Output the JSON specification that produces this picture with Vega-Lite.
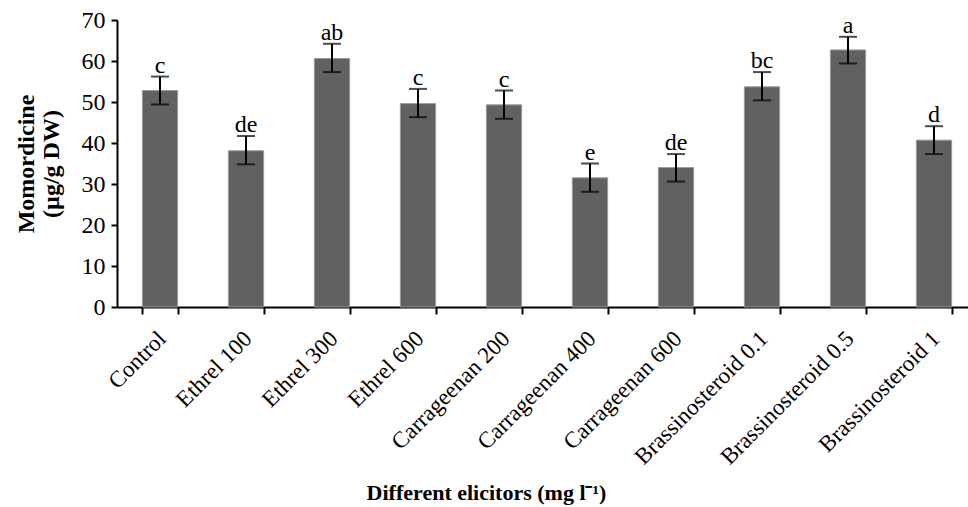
{
  "$schema": "https://vega.github.io/schema/vega-lite/v6.json",
  "autosize": {"type": "none"},
  "width": 851,
  "height": 287,
  "padding": {"left": 117, "top": 20, "right": 0, "bottom": 200},
  "background": "white",
  "config": {
    "view": {"stroke": null},
    "font": "Liberation Serif"
  },
  "data": {
    "values": [
      {"elicitor": "Control", "value": 52.8, "lo": 49.4, "hi": 56.2, "letter": "c"},
      {"elicitor": "Ethrel 100", "value": 38.1, "lo": 34.8, "hi": 41.7, "letter": "de"},
      {"elicitor": "Ethrel 300", "value": 60.6, "lo": 57.3, "hi": 64.2, "letter": "ab"},
      {"elicitor": "Ethrel 600", "value": 49.6, "lo": 46.3, "hi": 53.2, "letter": "c"},
      {"elicitor": "Carrageenan 200", "value": 49.3, "lo": 45.9, "hi": 52.8, "letter": "c"},
      {"elicitor": "Carrageenan 400", "value": 31.5, "lo": 28.1, "hi": 35.0, "letter": "e"},
      {"elicitor": "Carrageenan 600", "value": 34.0, "lo": 30.6, "hi": 37.3, "letter": "de"},
      {"elicitor": "Brassinosteroid 0.1", "value": 53.7, "lo": 50.4, "hi": 57.3, "letter": "bc"},
      {"elicitor": "Brassinosteroid 0.5", "value": 62.7, "lo": 59.4, "hi": 65.9, "letter": "a"},
      {"elicitor": "Brassinosteroid 1", "value": 40.7, "lo": 37.3, "hi": 44.1, "letter": "d"}
    ]
  },
  "encoding": {
    "x": {
      "field": "elicitor",
      "type": "nominal",
      "sort": null,
      "scale": {"range": [0, 860], "paddingInner": 0.59, "paddingOuter": 0.295},
      "axis": {
        "title": "Different elicitors (mg l⁻¹)",
        "titleFont": "Liberation Serif",
        "titleFontSize": 22,
        "titleFontWeight": "bold",
        "titleColor": "black",
        "titleX": 369,
        "titleY": 192,
        "titleAlign": "center",
        "titleBaseline": "alphabetic",
        "labelAngle": -45,
        "labelAlign": "right",
        "labelBaseline": "top",
        "labelOffset": -6,
        "labelPadding": 13,
        "labelFont": "Liberation Serif",
        "labelFontSize": 23,
        "labelColor": "black",
        "labelLimit": 300,
        "domainColor": "black",
        "domainWidth": 2,
        "tickColor": "black",
        "tickWidth": 2,
        "tickSize": 7,
        "tickBand": "extent",
        "grid": false
      }
    }
  },
  "layer": [
    {
      "mark": {"type": "bar", "color": "#616161", "stroke": "#9a9a9a", "strokeWidth": 1},
      "encoding": {
        "y": {
          "field": "value",
          "type": "quantitative",
          "scale": {"domain": [0, 70], "nice": false},
          "axis": {
            "values": [0, 10, 20, 30, 40, 50, 60, 70],
            "title": ["Momordicine", "(µg/g DW)"],
            "titleFont": "Liberation Serif",
            "titleFontSize": 24,
            "titleFontWeight": "bold",
            "titleColor": "black",
            "titleAngle": -90,
            "titleX": -84,
            "titleY": 143.5,
            "titleAlign": "center",
            "titleBaseline": "alphabetic",
            "titleLineHeight": 25,
            "labelFont": "Liberation Serif",
            "labelFontSize": 24,
            "labelColor": "black",
            "labelPadding": 6,
            "domainColor": "black",
            "domainWidth": 2,
            "tickColor": "black",
            "tickWidth": 2,
            "tickSize": 6,
            "grid": false
          }
        }
      }
    },
    {
      "mark": {"type": "rule", "color": "black", "strokeWidth": 2},
      "encoding": {
        "y": {"field": "lo", "type": "quantitative"},
        "y2": {"field": "hi"}
      }
    },
    {
      "mark": {"type": "tick", "color": "black", "thickness": 2, "size": 18, "orient": "horizontal"},
      "encoding": {"y": {"field": "lo", "type": "quantitative"}}
    },
    {
      "mark": {"type": "tick", "color": "black", "thickness": 2, "size": 18, "orient": "horizontal"},
      "encoding": {"y": {"field": "hi", "type": "quantitative"}}
    },
    {
      "mark": {"type": "text", "font": "Liberation Serif", "fontSize": 24, "color": "black", "baseline": "alphabetic", "dy": -4},
      "encoding": {
        "y": {"field": "hi", "type": "quantitative"},
        "text": {"field": "letter"}
      }
    }
  ]
}
